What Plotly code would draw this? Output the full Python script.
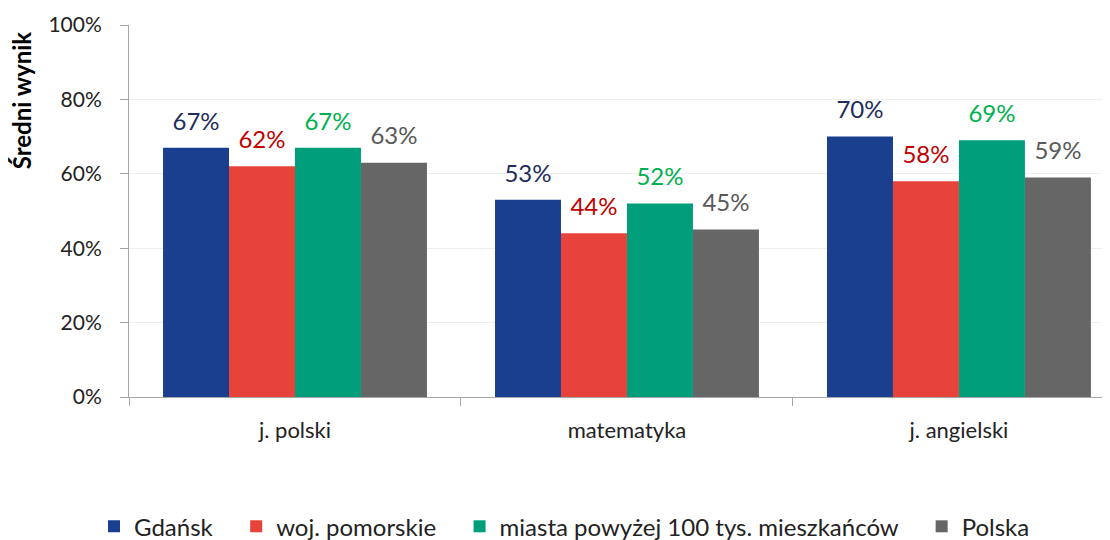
import plotly.graph_objects as go

categories = ["j. polski", "matematyka", "j. angielski"]
series_names = ["Gdańsk", "woj. pomorskie", "miasta powyżej 100 tys. mieszkańców", "Polska"]
gdansk = [0.67, 0.53, 0.70]
pomorskie = [0.62, 0.44, 0.58]
miasta = [0.67, 0.52, 0.69]
polska = [0.63, 0.45, 0.59]
y_ticks = [0, 0.2, 0.4, 0.6, 0.8, 1.0]

bar_colors = ["#1B3F8F", "#E8433A", "#009E7B", "#666666"]
label_colors = ["#1F2D5A", "#C00000", "#00B050", "#595959"]
FONT = "Lato"
PAD = "\u00a0" * 3

fig = go.Figure()
all_vals = [gdansk, pomorskie, miasta, polska]
for i, (name, vals, c) in enumerate(zip(series_names, all_vals, bar_colors)):
    fig.add_trace(go.Bar(
        x=categories, y=vals, name=name + (PAD if i < 3 else ""), offsetgroup=str(i),
        marker=dict(color=c, line=dict(width=0)),
    ))
for i, (vals, lc) in enumerate(zip(all_vals, label_colors)):
    fig.add_trace(go.Scatter(
        x=categories, y=vals, offsetgroup=str(i), mode="markers+text",
        marker=dict(size=18, opacity=0), showlegend=False, hoverinfo="skip",
        text=[f"{v:.0%}" for v in vals], textposition="top center",
        textfont=dict(color=lc, size=24, family=FONT), cliponaxis=False,
    ))

fig.update_layout(
    width=1102, height=532,
    barmode="group", bargap=0.205, bargroupgap=0,
    scattermode="group", scattergap=0.205,
    plot_bgcolor="white", paper_bgcolor="white",
    margin=dict(l=121, r=0, t=17, b=143, autoexpand=False),
    font=dict(family=FONT, size=21, color="#222222"),
    showlegend=True,
    legend=dict(orientation="h", xref="container", x=0.505, xanchor="center",
                yref="container", y=0.025, yanchor="middle",
                font=dict(size=24, family=FONT, color="#222222"), itemwidth=30,
                traceorder="normal"),
    xaxis=dict(range=[-0.5, 2.455], showline=True, linecolor="#A6A6A6", linewidth=1,
               ticks="outside", tickson="boundaries", ticklen=8, tickcolor="#A6A6A6",
               ticklabelstandoff=14,
               tickfont=dict(size=22, family=FONT), showgrid=False),
    yaxis=dict(range=[0, 1], tickvals=y_ticks, tickformat=".0%",
               showline=True, linecolor="#A6A6A6", linewidth=1,
               ticks="outside", ticklen=8, tickcolor="#A6A6A6", ticklabelstandoff=14,
               gridcolor="#EFEFEF", gridwidth=1, zeroline=False,
               tickfont=dict(size=21, family=FONT)),
    annotations=[dict(text="<b>Średni wynik</b>", xref="paper", yref="paper",
                      x=-0.110, y=0.798, xanchor="center", yanchor="middle",
                      textangle=-90, showarrow=False,
                      font=dict(size=24, family=FONT, color="#000000"))],
)

fig.write_html("out.html")
